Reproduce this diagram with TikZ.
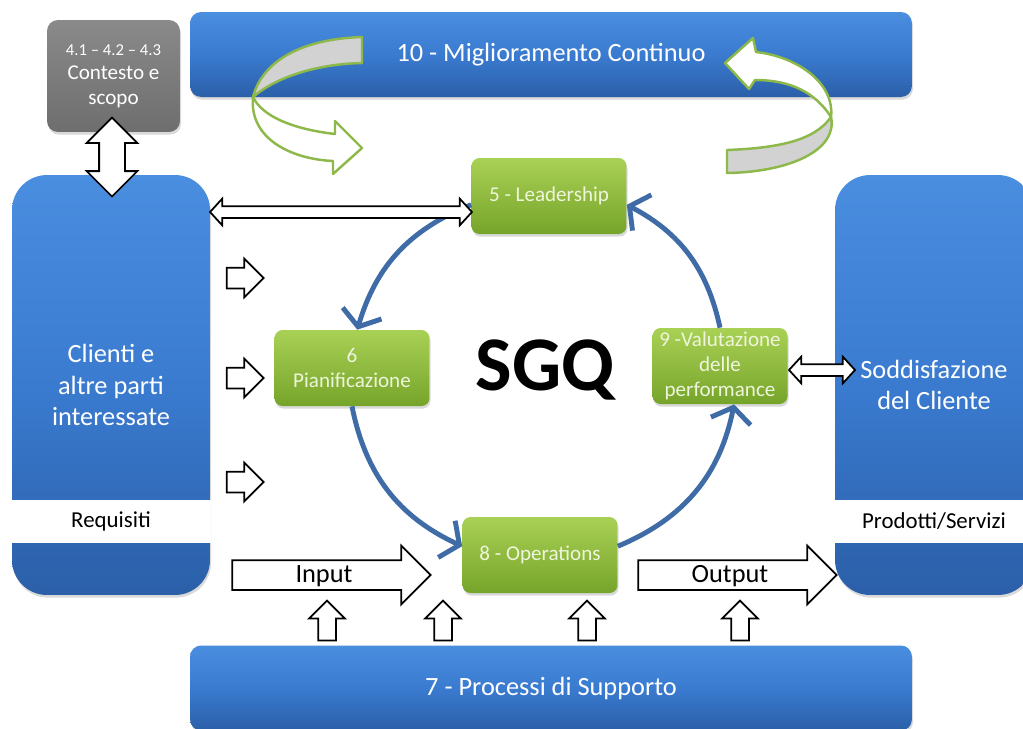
\documentclass[tikz,border=0pt]{standalone}
\usepackage{fontspec}
\setmainfont{Carlito}
\usepackage{tikz}
\usetikzlibrary{calc,shapes.arrows,arrows.meta,shadows}

\definecolor{blueL}{HTML}{4A8EE0}
\definecolor{blueM}{HTML}{3A7BD0}
\definecolor{blueD}{HTML}{2B5FA8}
\definecolor{greenL}{HTML}{A9D155}
\definecolor{greenD}{HTML}{76A42A}
\definecolor{greyL}{HTML}{8A8A8A}
\definecolor{greyD}{HTML}{6E6E6E}
\definecolor{cyclecol}{HTML}{3F6CA6}
\definecolor{ribbon}{HTML}{8DB84A}
\definecolor{ribbonback}{HTML}{D2D2D2}
\definecolor{greentext}{HTML}{EEF5DC}

\begin{document}
\begin{tikzpicture}[x=0.02cm,y=-0.02cm,
   hbar/.style={rectangle,rounded corners=0.22cm,top color=blueL,bottom color=blueD,
     middle color=blueM,text=white,font=\fontsize{15}{18}\selectfont,align=center,
     minimum width=14.44cm,minimum height=1.7cm,
     drop shadow={opacity=0.3,shadow xshift=0.6pt,shadow yshift=-1.5pt}},
   sidebox/.style={hbar,rounded corners=0.7cm,minimum width=3.96cm,minimum height=8.4cm},
   whiteband/.style={rectangle,fill=white,minimum width=4.0cm,minimum height=0.86cm,
     font=\fontsize{13}{15}\selectfont},
   ctxbox/.style={rectangle,rounded corners=0.22cm,top color=greyL,bottom color=greyD,
     text=white,align=center,minimum width=2.66cm,minimum height=2.24cm,
     font=\fontsize{12}{14}\selectfont,
     drop shadow={opacity=0.3,shadow xshift=0.6pt,shadow yshift=-1.5pt}},
   stagebox/.style={rectangle,rounded corners=0.16cm,top color=greenL,bottom color=greenD,
     text=greentext,align=center,minimum width=3.1cm,minimum height=1.52cm,inner sep=1pt,
     font=\fontsize{12}{14.2}\selectfont,
     drop shadow={opacity=0.3,shadow xshift=0.6pt,shadow yshift=-1.5pt}},
   blockarrow/.style={single arrow,draw=black,fill=white,line width=1pt,inner xsep=0pt,
     single arrow tip angle=90},
   inarrow/.style={blockarrow,minimum height=0.74cm,inner ysep=0.19cm,
     single arrow head extend=0.18cm},
   uparrow/.style={blockarrow,rotate=90,minimum height=0.8cm,inner ysep=0.16cm,
     single arrow head extend=0.18cm},
   flowarrow/.style={blockarrow,minimum height=3.97cm,inner ysep=0.14cm,
     text height=0.28cm,text depth=0cm,
     single arrow head extend=0.29cm,font=\fontsize{15}{17}\selectfont},
   linkarrow/.style={double arrow,draw=black,fill=white,line width=1pt,inner xsep=0pt,
     inner ysep=0.1cm,double arrow head extend=0.15cm,double arrow tip angle=95},
   cycleline/.style={draw=cyclecol,line width=2.8pt,
     -{Straight Barb[length=8pt,width=23pt]}},
   ribbonfront/.style={draw=ribbon,fill=white,line width=1.4pt,line join=round},
   ribbonrear/.style={draw=ribbon,fill=ribbonback,line width=1.4pt,line join=round}
    ]
  \path[use as bounding box] (0,0) rectangle (1023,728);
  \clip (0,0) rectangle (1023,728);

  % -- blue frame
  \node[hbar] at (551,54.5) (improve) {10 - Miglioramento Continuo};
  \node[hbar] at (551,688) (support) {7 - Processi di Supporto};
  \node[sidebox] at (111,385) (clients) {Clienti e\\altre parti\\interessate};
  \node[sidebox] at (934,385) (satisf) {Soddisfazione\\del Cliente};
  \node[whiteband] at (111,521.5) (req) {Requisiti};
  \node[whiteband] at (934,521.5) (prod) {Prodotti/Servizi};
  \node[ctxbox] at (113.5,76) (ctx) {{\fontsize{9.5}{12}\selectfont 4.1 – 4.2 – 4.3}\\Contesto e\\scopo};

  % -- green stages
  \node[stagebox] at (549,196) (lead) {5 - Leadership};
  \node[stagebox] at (352,368) (plan) {6\\Pianificazione};
  \node[stagebox,minimum width=2.7cm] at (720,366) (val) {9 -Valutazione\\delle\\performance};
  \node[stagebox] at (540,555) (ops) {8 - Operations};
  \node[font=\fontsize{44}{50}\selectfont\bfseries] at (545,370) (sgq) {SGQ};

  % -- cycle
  \draw[cycleline] ([yshift=-5pt]lead.west) to[bend right=26] ([xshift=3pt]plan.north);
  \draw[cycleline] (plan.south) to[bend right=27] ([yshift=5pt]ops.west);
  \draw[cycleline] ([yshift=5pt]ops.east) to[bend right=28] ([xshift=8pt]val.south);
  \draw[cycleline] (val.north) to[bend right=25] ([yshift=-5pt]lead.east);

  % -- block arrows
  \node[linkarrow,rotate=90,minimum height=1.58cm,inner ysep=0.24cm,
    double arrow head extend=0.25cm,double arrow tip angle=90] at (112,157) (ctxlink) {};
  \node[linkarrow,minimum height=5.24cm] at (341,212) (leadlink) {};
  \node[linkarrow,minimum height=1.32cm] at (822,370) (vallink) {};
  \foreach \y/\n in {278/a,378/b,482/c}
    \node[inarrow] at (240,\y) (req\n) {};
  \node[flowarrow] at (324,575) (input) {Input};
  \node[flowarrow] at (730,575) (output) {Output};
  \foreach \x/\n in {327/a,443/b,587/c,740/d}
    \node[uparrow] at (\x,625) (sup\n) {};

  % -- improvement ribbons
  \filldraw[ribbonrear] (362,37) .. controls (300,39) and (262,62) .. (253,97)
    .. controls (275,78) and (315,64) .. (362,63) -- cycle;
  \filldraw[ribbonfront] (253,97) .. controls (249,138) and (290,159) .. (333,161)
    -- (333,174) -- (362,148) -- (335,121) -- (335,134)
    .. controls (292,129) and (262,116) .. (253,97) -- cycle;
  \filldraw[ribbonrear] (831,117) .. controls (815,140) and (780,148) .. (727,150)
    -- (727,173) .. controls (790,172) and (838,150) .. (831,117) -- cycle;
  \filldraw[ribbonfront] (725,63) -- (753,38) -- (756,52)
    .. controls (800,57) and (835,85) .. (831,117)
    .. controls (815,92) and (790,80) .. (755,80) -- (749,89) -- cycle;

\end{tikzpicture}
\end{document}
